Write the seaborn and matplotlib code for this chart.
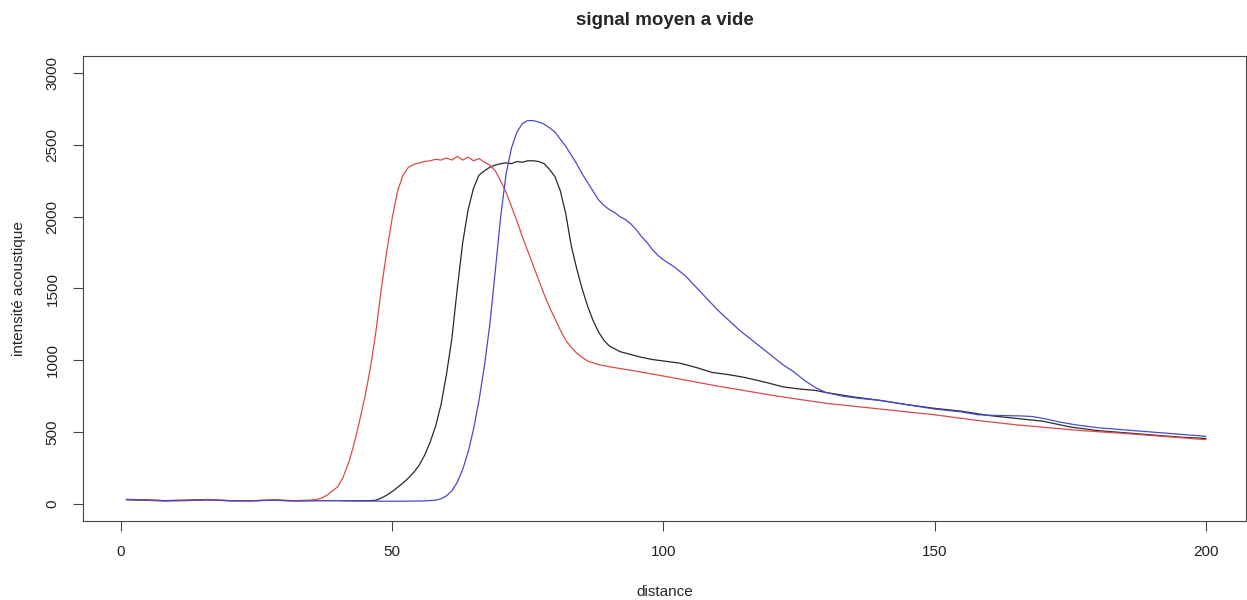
import numpy as np
import pandas as pd
import matplotlib
matplotlib.use("Agg")
import matplotlib.pyplot as plt
import seaborn as sns

# data (distance -> intensite)
red_x = [1, 4, 8, 12, 16, 20, 24, 28, 32, 35, 36, 37, 38, 39, 40, 41, 42, 43, 44, 45,
         46, 47, 48, 49, 50, 51, 52, 53, 54, 55, 56, 57, 58, 59, 60, 61, 62, 63, 64, 65,
         66, 67, 68, 69, 70, 71, 72, 73, 74, 75, 76, 77, 78, 79, 80, 81, 82, 83, 84, 85,
         86, 88, 90, 94, 100, 110, 121, 130, 140, 150, 158, 165, 177, 185, 192, 200]
red_y = [30, 28, 22, 25, 30, 22, 20, 28, 22, 25, 30, 40, 60, 90, 120, 190, 290, 420, 580, 750,
         950, 1200, 1500, 1760, 1990, 2180, 2290, 2345, 2365, 2375, 2385, 2390, 2400, 2395, 2410, 2395, 2420, 2395, 2415, 2390,
         2405, 2380, 2360, 2320, 2250, 2170, 2070, 1970, 1860, 1760, 1660, 1560, 1460, 1370, 1290, 1210, 1140, 1090, 1050, 1020,
         995, 970, 955, 930, 890, 820, 750, 700, 660, 620, 580, 550, 510, 490, 470, 447]

black_x = [1, 4, 8, 12, 16, 20, 24, 28, 32, 36, 40, 44, 46, 47, 48, 49, 50, 51, 52, 53,
           54, 55, 56, 57, 58, 59, 60, 61, 62, 63, 64, 65, 66, 67, 68, 69, 70, 71, 72, 73,
           74, 75, 76, 77, 78, 79, 80, 81, 82, 83, 84, 85, 86, 87, 88, 89, 90, 92, 94, 96,
           98, 100, 103, 106, 109, 112, 115, 119, 122, 125, 128, 130, 135, 140, 145, 150, 155, 160, 165, 170,
           175, 180, 185, 190, 195, 200]
black_y = [28, 25, 20, 22, 28, 22, 20, 25, 20, 22, 22, 20, 22, 25, 40, 60, 85, 115, 145, 180,
           220, 270, 340, 430, 540, 690, 900, 1150, 1500, 1820, 2050, 2200, 2290, 2320, 2345, 2360, 2370, 2375, 2370, 2385,
           2380, 2390, 2390, 2385, 2370, 2330, 2280, 2180, 2020, 1800, 1640, 1500, 1380, 1280, 1200, 1140, 1100, 1060, 1040, 1020,
           1005, 995, 980, 950, 915, 900, 880, 845, 815, 800, 790, 775, 745, 720, 690, 665, 645, 615, 595, 575,
           535, 510, 495, 480, 465, 455]

blue_x = [1, 4, 8, 12, 16, 20, 24, 28, 32, 36, 40, 44, 48, 52, 56, 58, 59, 60, 61, 62,
          63, 64, 65, 66, 67, 68, 69, 70, 71, 72, 73, 74, 75, 76, 77, 78, 79, 80, 81, 82,
          83, 84, 85, 86, 87, 88, 89, 90, 91, 92, 93, 94, 95, 96, 97, 98, 99, 100, 102, 104,
          106, 108, 110, 112, 114, 116, 118, 120, 122, 124, 126, 128, 130, 133, 136, 140, 145, 150, 155, 158,
          162, 166, 168, 170, 173, 176, 180, 185, 190, 195, 200]
blue_y = [30, 28, 22, 25, 28, 20, 22, 25, 20, 22, 22, 20, 18, 18, 20, 25, 35, 55, 90, 150,
          240, 360, 520, 720, 960, 1250, 1620, 2000, 2300, 2480, 2590, 2650, 2670, 2670, 2660, 2645, 2620, 2590, 2540, 2490,
          2430, 2370, 2300, 2240, 2180, 2120, 2080, 2050, 2030, 2000, 1980, 1950, 1910, 1860, 1820, 1770, 1730, 1700, 1650, 1590,
          1510, 1430, 1350, 1280, 1210, 1150, 1090, 1030, 970, 920, 860, 810, 775, 750, 735, 720, 690, 660, 640, 620,
          615, 612, 608, 595, 570, 550, 530, 515, 500, 485, 470]

sns.set_style("white")
plt.rcParams['font.family'] = ['Liberation Sans', 'DejaVu Sans']

fig = plt.figure(figsize=(12.47, 6), dpi=100)
ax = fig.add_axes([83 / 1247, 1 - 521 / 600, (1246 - 83) / 1247, (521 - 56) / 600])

sns.lineplot(x=black_x, y=black_y, color="#2a2a2a", linewidth=0.9, ax=ax)
sns.lineplot(x=red_x, y=red_y, color="#dc4a4a", linewidth=0.9, ax=ax)
sns.lineplot(x=blue_x, y=blue_y, color="#4a4acb", linewidth=0.9, ax=ax)

# R-like limits, matched to the reference pixels
ax.set_xlim(-7.0, 207.4)
ax.set_ylim(-120, 3120)
ax.set_xticks([0, 50, 100, 150, 200])
ax.set_yticks([0, 500, 1000, 1500, 2000, 2500, 3000])
ax.tick_params(axis='both', which='major', bottom=True, left=True, direction='out',
               length=7, width=0.8, colors='#444444',
               labelsize=11, labelcolor='#222222', pad=10)
ax.tick_params(axis='y', labelrotation=90)
for lab in ax.get_yticklabels():
    lab.set_va('center')
for s in ax.spines.values():
    s.set_visible(True)
    s.set_color('#444444')
    s.set_linewidth(0.8)

ax.set_xlabel("distance", fontsize=11, labelpad=19)
ax.set_ylabel("intensité acoustique", fontsize=11, labelpad=14)
ax.set_title("signal moyen a vide", fontsize=13.5, fontweight='bold', pad=22)

fig.savefig("out.png", dpi=100)
